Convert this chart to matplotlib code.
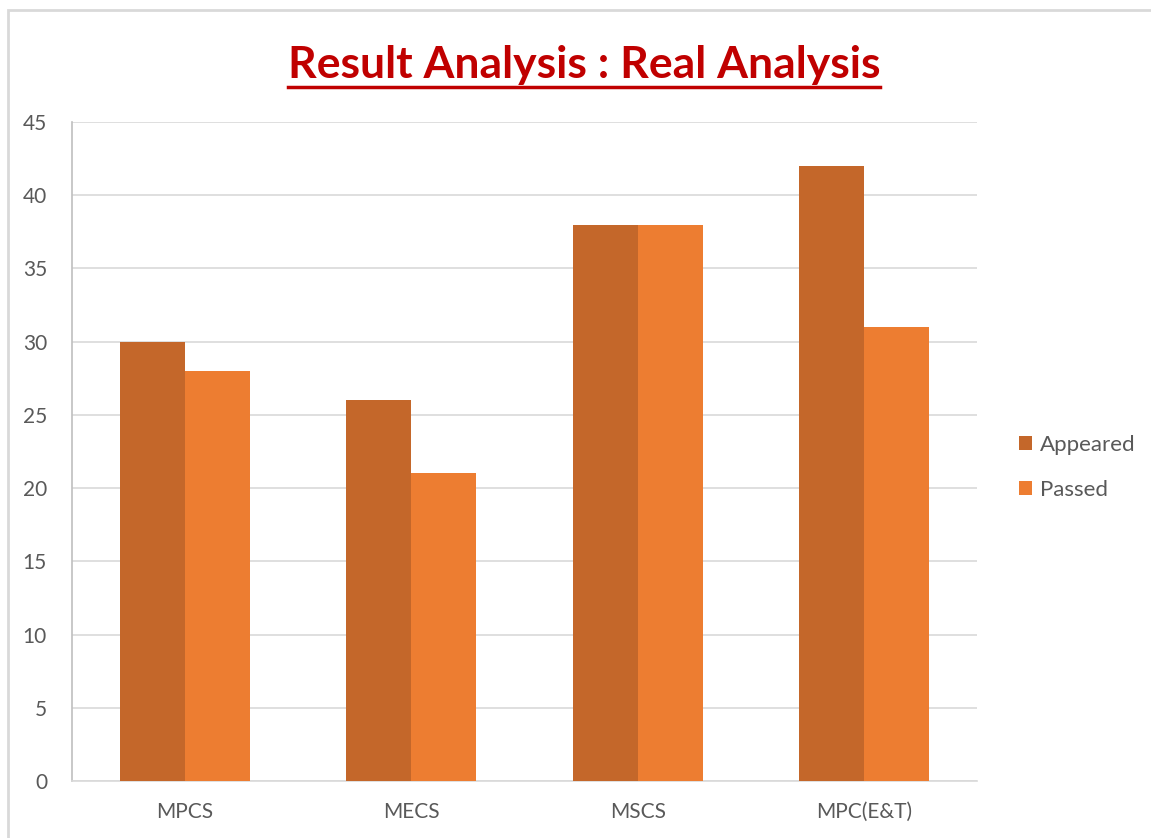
import matplotlib.pyplot as plt
import numpy as np
from matplotlib.patches import Rectangle
from matplotlib.lines import Line2D

plt.rcParams['font.family'] = ['Lato', 'DejaVu Sans']

categories = ['MPCS', 'MECS', 'MSCS', 'MPC(E&T)']
appeared = [30, 26, 38, 42]
passed = [28, 21, 38, 31]
yticks = [0, 5, 10, 15, 20, 25, 30, 35, 40, 45]

W, H = 1151, 838
fig = plt.figure(figsize=(W / 100, H / 100), dpi=100)
ax = fig.add_axes([72 / W, 1 - 781 / H, (977 - 72) / W, (781 - 122) / H])

# outer chart border
fig.patches.append(Rectangle((8 / W, -0.1), 1.2, 1 - 10 / H + 0.1,
                             transform=fig.transFigure, fill=False,
                             edgecolor='#D9D9D9', linewidth=2))

x = np.arange(len(categories))
bw = 0.287
ax.bar(x - bw / 2, appeared, bw, color='#C4672A', label='Appeared', zorder=3)
ax.bar(x + bw / 2, passed, bw, color='#ED7D31', label='Passed', zorder=3)

ax.set_xlim(-0.5, 3.5)
ax.set_ylim(0, 45)
ax.set_yticks(yticks)
ax.set_xticks(x)
ax.set_xticklabels(categories)
ax.tick_params(axis='both', length=0, labelsize=15, colors='#595959')
ax.tick_params(axis='x', pad=15)
ax.tick_params(axis='y', pad=18)
ax.grid(axis='y', color='#D9D9D9', linewidth=1.2, zorder=0)
for s in ['top', 'right']:
    ax.spines[s].set_visible(False)
ax.spines['left'].set_color('#BFBFBF')
ax.spines['bottom'].set_color('#D9D9D9')
ax.spines['left'].set_linewidth(1.2)
ax.spines['bottom'].set_linewidth(1.2)

leg = ax.legend(loc='center left', bbox_to_anchor=(1.024, 0.476), frameon=False,
                fontsize=16, labelcolor='#595959', handlelength=0.6,
                handleheight=0.6, handletextpad=0.35, labelspacing=1.15)

title = fig.text(584 / W, 1 - 78 / H, 'Result Analysis : Real Analysis',
                 ha='center', va='baseline', fontsize=32, fontweight='bold',
                 color='#C00000')
fig.canvas.draw()
bb = title.get_window_extent()
uy = 1 - 87 / H
fig.add_artist(Line2D([bb.x0 / W, bb.x1 / W], [uy, uy], color='#C00000',
                      linewidth=2.5, transform=fig.transFigure))

fig.savefig('out.png', dpi=100)
